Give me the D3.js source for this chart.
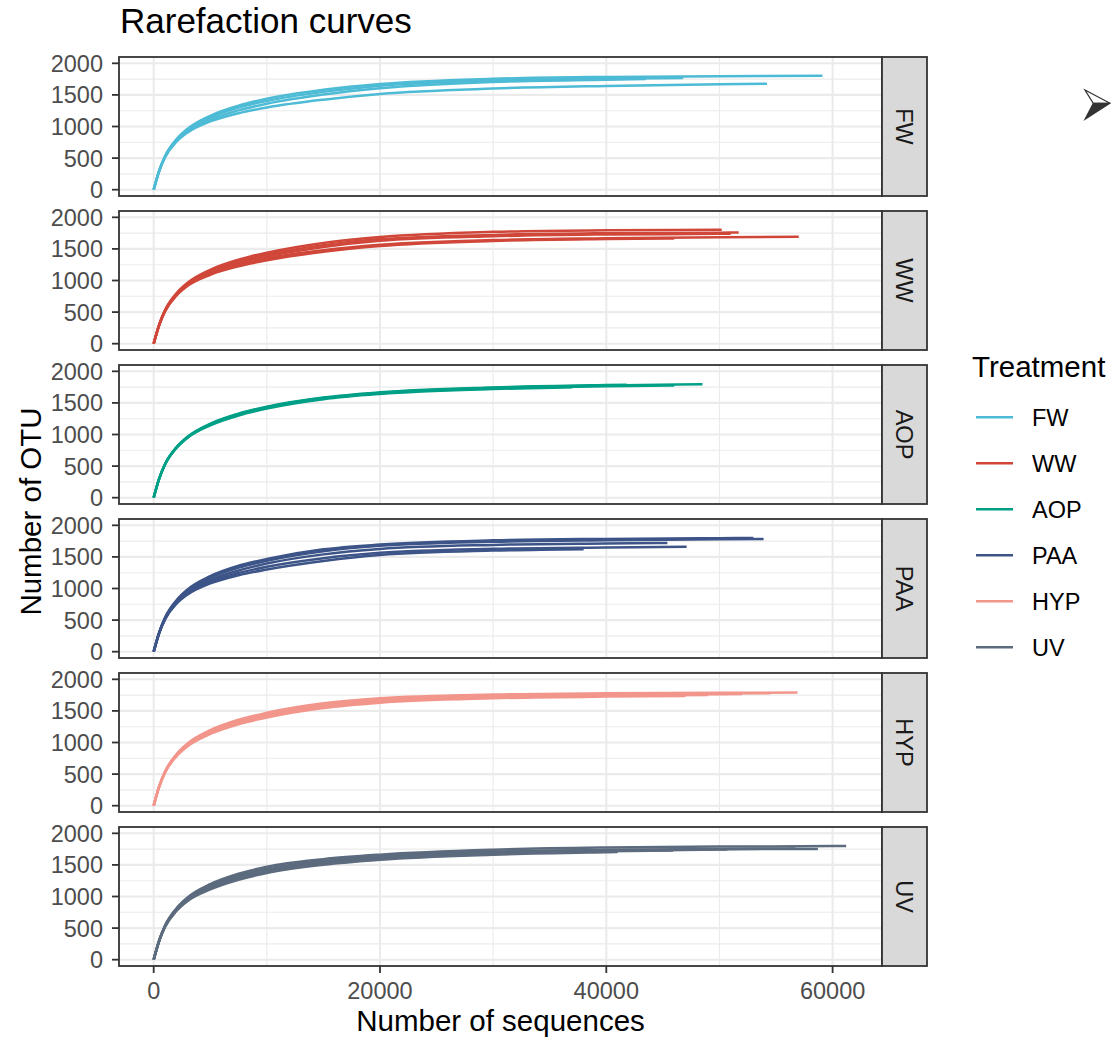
<!DOCTYPE html>
<html>
<head>
<meta charset="utf-8">
<script src="https://cdn.jsdelivr.net/npm/d3@7"></script>
<style>
body { margin: 0; background: #fff; }
svg text { font-family: "Liberation Sans", Arial, sans-serif; }
</style>
</head>
<body>
<svg id="chart" width="1111" height="1037"></svg>
<script>
"use strict";

// facets / legend order and colours
var treatments = ["FW", "WW", "AOP", "PAA", "HYP", "UV"];
var treatmentColors = ["#4DBBD5", "#D0473A", "#00A087", "#3C5488", "#F2968C", "#5C6B7E"];

// sequencing depths at which OTU counts were read; each sample also has its own final depth
var depthSteps = [0, 500, 1000, 2000, 3000, 5000, 7500, 10000, 15000, 20000, 30000, 40000, 50000, 60000];

var xTicks = [0, 20000, 40000, 60000];
var xMinor = [10000, 30000, 50000];
var yTicks = [0, 500, 1000, 1500, 2000];
var yMinor = [250, 750, 1250, 1750];

// otu values at each depthStep below "end", then the value at "end"
var fwSamples = [
    { end: 59100, otu: [0, 310, 530, 795, 965, 1170, 1330, 1440, 1580, 1672, 1755, 1785, 1797, 1803] },
    { end: 46800, otu: [0, 307, 525, 785, 950, 1145, 1300, 1405, 1548, 1645, 1730, 1757, 1768] },
    { end: 43500, otu: [0, 304, 517, 770, 930, 1112, 1255, 1360, 1505, 1605, 1705, 1740, 1750] },
    { end: 54200, otu: [0, 300, 510, 755, 905, 1080, 1210, 1300, 1425, 1515, 1600, 1641, 1668, 1677] }
];
var wwSamples = [
    { end: 50200, otu: [0, 310, 530, 795, 965, 1170, 1330, 1440, 1595, 1688, 1770, 1795, 1803, 1805] },
    { end: 51700, otu: [0, 307, 525, 785, 950, 1145, 1300, 1410, 1560, 1655, 1722, 1748, 1757, 1760] },
    { end: 51000, otu: [0, 305, 520, 775, 935, 1125, 1275, 1380, 1530, 1628, 1700, 1728, 1738, 1740] },
    { end: 57000, otu: [0, 303, 515, 765, 925, 1105, 1245, 1350, 1480, 1565, 1640, 1668, 1685, 1693] },
    { end: 46000, otu: [0, 300, 512, 760, 915, 1090, 1225, 1320, 1455, 1545, 1625, 1655, 1665] }
];
var aopSamples = [
    { end: 41800, otu: [0, 310, 530, 795, 965, 1170, 1330, 1440, 1585, 1668, 1745, 1782, 1787] },
    { end: 48500, otu: [0, 309, 528, 792, 960, 1163, 1322, 1432, 1577, 1660, 1738, 1775, 1795] },
    { end: 46000, otu: [0, 308, 526, 789, 956, 1156, 1315, 1425, 1570, 1653, 1730, 1765, 1775] },
    { end: 37000, otu: [0, 307, 525, 785, 950, 1145, 1300, 1410, 1558, 1642, 1720, 1748] }
];
var paaSamples = [
    { end: 53000, otu: [0, 315, 540, 810, 985, 1195, 1360, 1467, 1620, 1695, 1762, 1785, 1796, 1800] },
    { end: 53900, otu: [0, 310, 530, 795, 965, 1170, 1330, 1440, 1590, 1675, 1740, 1765, 1780, 1785] },
    { end: 45400, otu: [0, 306, 522, 780, 942, 1135, 1285, 1395, 1540, 1625, 1690, 1712, 1720] },
    { end: 47100, otu: [0, 303, 515, 765, 925, 1105, 1245, 1345, 1480, 1565, 1628, 1650, 1660] },
    { end: 38000, otu: [0, 300, 510, 755, 905, 1080, 1210, 1300, 1435, 1530, 1600, 1622] }
];
var hypSamples = [
    { end: 56900, otu: [0, 315, 540, 810, 985, 1195, 1360, 1470, 1620, 1700, 1758, 1778, 1786, 1790] },
    { end: 54500, otu: [0, 312, 535, 803, 975, 1182, 1345, 1452, 1600, 1680, 1742, 1765, 1776, 1780] },
    { end: 52000, otu: [0, 310, 530, 795, 965, 1170, 1330, 1435, 1582, 1662, 1728, 1753, 1764, 1767] },
    { end: 49000, otu: [0, 308, 526, 789, 956, 1156, 1315, 1415, 1562, 1645, 1713, 1740, 1750] },
    { end: 47000, otu: [0, 306, 522, 780, 942, 1135, 1290, 1395, 1545, 1630, 1700, 1727, 1735] }
];
var uvSamples = [
    { end: 61200, otu: [0, 315, 540, 810, 985, 1195, 1360, 1470, 1590, 1662, 1740, 1775, 1790, 1798, 1800] },
    { end: 58700, otu: [0, 310, 530, 795, 965, 1170, 1330, 1440, 1565, 1638, 1712, 1736, 1748, 1752] },
    { end: 56700, otu: [0, 309, 528, 792, 960, 1160, 1320, 1420, 1550, 1622, 1702, 1736, 1752, 1758] },
    { end: 50700, otu: [0, 307, 525, 785, 950, 1145, 1300, 1405, 1535, 1607, 1686, 1725, 1742, 1744] },
    { end: 45900, otu: [0, 305, 520, 775, 935, 1125, 1280, 1385, 1518, 1592, 1673, 1715, 1728] },
    { end: 41000, otu: [0, 304, 517, 770, 930, 1112, 1265, 1372, 1503, 1583, 1662, 1700, 1703] }
];
var samplesByTreatment = [fwSamples, wwSamples, aopSamples, paaSamples, hypSamples, uvSamples];

var svg = d3.select("#chart");

var panelLeft = 119, panelRight = 882, panelTop = 57, panelH = 139, panelStep = 154;
var stripW = 45;
var fontTick = 23.5, fontTitle = 29.5;

var x = d3.scaleLinear().domain([-3065, 64365]).range([panelLeft, panelRight]);

function samplePoints(s) {
    var pts = [];
    depthSteps.forEach(function (d, i) {
        if (d < s.end) pts.push([d, s.otu[i]]);
    });
    pts.push([s.end, s.otu[pts.length]]);
    return pts;
}

svg.append("text")
    .attr("x", 120)
    .attr("y", 33)
    .style("font-size", "35px")
    .style("fill", "#000")
    .text("Rarefaction curves")
;

treatments.forEach(function (t, i) {
    var top = panelTop + i * panelStep;
    var y = d3.scaleLinear().domain([-100, 2100]).range([top + panelH, top]);
    var g = svg.append("g").attr("class", "panel");

    g.append("rect")
        .attr("x", panelLeft).attr("y", top)
        .attr("width", panelRight - panelLeft).attr("height", panelH)
        .style("fill", "#fff")
    ;

    // grid
    g.selectAll(".ymin").data(yMinor).enter().append("line")
        .attr("x1", panelLeft).attr("x2", panelRight)
        .attr("y1", y).attr("y2", y)
        .style("stroke", "#EBEBEB").style("stroke-width", 1.1)
    ;
    g.selectAll(".xmin").data(xMinor).enter().append("line")
        .attr("x1", x).attr("x2", x)
        .attr("y1", top).attr("y2", top + panelH)
        .style("stroke", "#EBEBEB").style("stroke-width", 1.1)
    ;
    g.selectAll(".ymaj").data(yTicks).enter().append("line")
        .attr("x1", panelLeft).attr("x2", panelRight)
        .attr("y1", y).attr("y2", y)
        .style("stroke", "#EBEBEB").style("stroke-width", 2.1)
    ;
    g.selectAll(".xmaj").data(xTicks).enter().append("line")
        .attr("x1", x).attr("x2", x)
        .attr("y1", top).attr("y2", top + panelH)
        .style("stroke", "#EBEBEB").style("stroke-width", 2.1)
    ;

    var line = d3.line()
        .x(function (d) { return x(d[0]); })
        .y(function (d) { return y(d[1]); })
        .curve(d3.curveMonotoneX)
    ;
    g.selectAll(".curve").data(samplesByTreatment[i]).enter().append("path")
        .attr("class", "curve")
        .attr("d", function (s) { return line(samplePoints(s)); })
        .style("fill", "none")
        .style("stroke", treatmentColors[i])
        .style("stroke-width", 2.5)
    ;

    g.append("rect")
        .attr("x", panelLeft).attr("y", top)
        .attr("width", panelRight - panelLeft).attr("height", panelH)
        .style("fill", "none").style("stroke", "#333").style("stroke-width", 1.8)
    ;

    // strip
    g.append("rect")
        .attr("x", panelRight).attr("y", top)
        .attr("width", stripW).attr("height", panelH)
        .style("fill", "#D9D9D9").style("stroke", "#333").style("stroke-width", 1.8)
    ;
    g.append("text")
        .attr("transform", "translate(" + (panelRight + stripW / 2) + "," + (top + panelH / 2) + ")rotate(90)")
        .attr("text-anchor", "middle")
        .attr("dy", "0.35em")
        .style("font-size", fontTick + "px")
        .style("fill", "#1A1A1A")
        .text(t)
    ;

    // y axis
    g.selectAll(".ytick").data(yTicks).enter().append("line")
        .attr("x1", panelLeft - 7).attr("x2", panelLeft)
        .attr("y1", y).attr("y2", y)
        .style("stroke", "#333").style("stroke-width", 1.8)
    ;
    g.selectAll(".ylab").data(yTicks).enter().append("text")
        .attr("x", panelLeft - 16)
        .attr("y", y)
        .attr("dy", "0.36em")
        .attr("text-anchor", "end")
        .style("font-size", fontTick + "px")
        .style("fill", "#4D4D4D")
        .text(function (d) { return d; })
    ;

    if (i === treatments.length - 1) {
        var bottom = top + panelH;
        g.selectAll(".xtick").data(xTicks).enter().append("line")
            .attr("x1", x).attr("x2", x)
            .attr("y1", bottom).attr("y2", bottom + 7)
            .style("stroke", "#333").style("stroke-width", 1.8)
        ;
        g.selectAll(".xlab").data(xTicks).enter().append("text")
            .attr("x", x)
            .attr("y", bottom + 33)
            .attr("text-anchor", "middle")
            .style("font-size", fontTick + "px")
            .style("fill", "#4D4D4D")
            .text(function (d) { return d; })
        ;
    }
});

svg.append("text")
    .attr("x", (panelLeft + panelRight) / 2)
    .attr("y", 1031)
    .attr("text-anchor", "middle")
    .style("font-size", fontTitle + "px")
    .text("Number of sequences")
;
svg.append("text")
    .attr("transform", "translate(41," + (panelTop + (panelStep * 5 + panelH) / 2) + ")rotate(-90)")
    .attr("text-anchor", "middle")
    .style("font-size", fontTitle + "px")
    .text("Number of OTU")
;

// legend
var legend = svg.append("g").attr("class", "legend");
legend.append("text")
    .attr("x", 972).attr("y", 377)
    .style("font-size", fontTitle + "px")
    .text("Treatment")
;
var items = legend.selectAll(".item").data(treatments).enter().append("g")
    .attr("transform", function (d, i) { return "translate(0," + (417.3 + i * 46) + ")"; })
;
items.append("line")
    .attr("x1", 976).attr("x2", 1013)
    .style("stroke", function (d, i) { return treatmentColors[i]; })
    .style("stroke-width", 2.5)
;
items.append("text")
    .attr("x", 1032)
    .attr("dy", "0.36em")
    .style("font-size", fontTick + "px")
    .text(function (d) { return d; })
;

// arrowhead glyph at top right
svg.append("path")
    .attr("d", "M1085,90L1110,103.3L1093.3,103.3Z")
    .style("fill", "#fff").style("stroke", "#333").style("stroke-width", 1.2)
;
svg.append("path")
    .attr("d", "M1093.3,103.3L1110,103.3L1085,119.3Z")
    .style("fill", "#333").style("stroke", "#333").style("stroke-width", 1.2)
;
</script>
</body>
</html>
